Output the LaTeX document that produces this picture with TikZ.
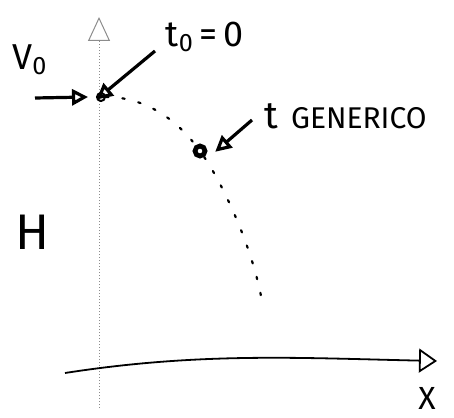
\documentclass[tikz,border=0pt]{standalone}
\usepackage{fontspec}
\setmainfont{Fira Sans}
\usetikzlibrary{arrows.meta,positioning}

\begin{document}
\begin{tikzpicture}[x=0.5pt,y=-0.5pt,
 >={Triangle[open,length=8pt,width=8pt]},
 axis/.style={draw=black!45,densely dotted,line width=0.5pt},
 orbit/.style={line width=1.1pt,dash pattern=on 1.2pt off 7pt,line cap=round},
 pointer/.style={->,line width=1.6pt},
 hand/.style={font=\fontsize{#1}{#1}\selectfont,inner sep=0pt},
 startpt/.style={circle,draw,line width=1pt,minimum size=4pt,inner sep=0pt},
 genpt/.style={circle,draw,line width=2.4pt,minimum size=5pt,inner sep=0pt}]
\useasboundingbox (0,0) rectangle (454,417);
% axes
\coordinate (yb) at (99,408);
\coordinate (yt) at (99,17);
\coordinate (xb) at (65,373);
\coordinate (xe) at (437,361);
\draw[axis,->,>={Triangle[open,length=12pt,width=11pt]}] (yb) -- (yt);
\draw[->,line width=0.9pt,>={Triangle[open,length=9pt,width=12pt]}]
 (xb) .. controls (200,352) and (300,358) .. (xe);
% points on the path
\node[startpt] (p0) at (101,97) {};
\node[genpt] (pt) at (200,151) {};
\coordinate (pend) at (261,296);
\draw[orbit] (p0) .. controls (150,97) and (180,125) .. (pt);
\draw[orbit] (pt) .. controls (220,180) and (250,240) .. (pend);
% labels
\node[hand=18] (vlab) at (30,60) {V\textsubscript{0}};
\node[hand=18] (t0lab) at (205,37) {t\textsubscript{0}\,=\,0};
\node[hand=15,anchor=west] (tlab) at (264,116) {{\fontsize{19}{19}\selectfont t}\ \,GENERICO};
\node[hand=25] (hlab) at (32,232) {H};
\node[hand=16] (xlab) at (427,398) {X};
% pointers
\coordinate (vtail) at (35,98);
\coordinate (t0tail) at (155,51);
\coordinate (ttail) at (252,120);
\draw[pointer] (vtail) -- ([xshift=-4pt]p0.west);
\draw[pointer] (t0tail) -- ([shift={(-4pt,-3pt)}]p0.north east);
\draw[pointer] (ttail) -- ([shift={(5pt,-3pt)}]pt.north east);
\end{tikzpicture}
\end{document}
